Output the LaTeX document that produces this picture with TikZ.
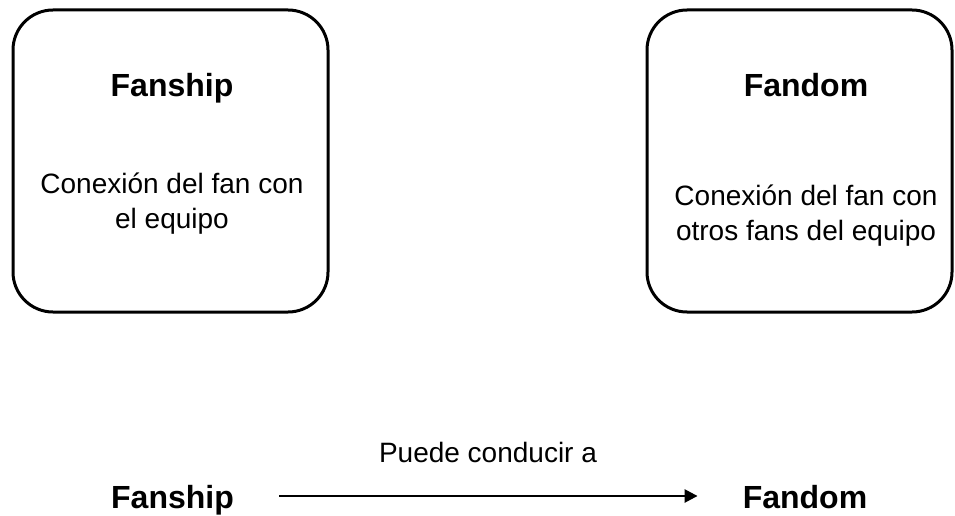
\documentclass[tikz,border=0pt]{standalone}
\usepackage{fontspec}
\setmainfont{Liberation Sans}
\usetikzlibrary{arrows.meta}
\begin{document}
\begin{tikzpicture}[x=1pt,y=1pt,
  card/.style={draw=black, line width=3pt, rounded corners=40pt, inner sep=0pt},
  titletext/.style={font=\fontsize{32}{38}\selectfont\bfseries, inner sep=0pt, anchor=base},
  bodytext/.style={font=\fontsize{28}{35}\selectfont, align=center, inner sep=0pt, anchor=base},
  flow/.style={-{Triangle[length=13pt,width=13pt]}, line width=2.5pt, shorten <=45pt, shorten >=45pt}]
\useasboundingbox (0,0) rectangle (955,515);
% boxes
\node[card, minimum width=315pt, minimum height=302pt] (boxL) at (170.5,354) {};
\node[card, minimum width=305pt, minimum height=302pt] (boxR) at (799.5,354) {};
% box texts
\node[titletext] (titleL) at (172,418) {Fanship};
\node[bodytext] (bodyL) at (172,287) {Conexión del fan con\\el equipo};
\node[titletext] (titleR) at (806,418) {Fandom};
\node[bodytext] (bodyR) at (806,275) {Conexión del fan con\\otros fans del equipo};
% bottom row
\node[titletext] (fanship) at (172.5,7) {Fanship};
\node[titletext] (fandom) at (805,7) {Fandom};
\draw[flow] (fanship.east |- 0,19) coordinate (startpt) -- (fandom.west |- 0,19) coordinate (endpt);
\node[bodytext] (label) at (488,53) {Puede conducir a};
\end{tikzpicture}
\end{document}
